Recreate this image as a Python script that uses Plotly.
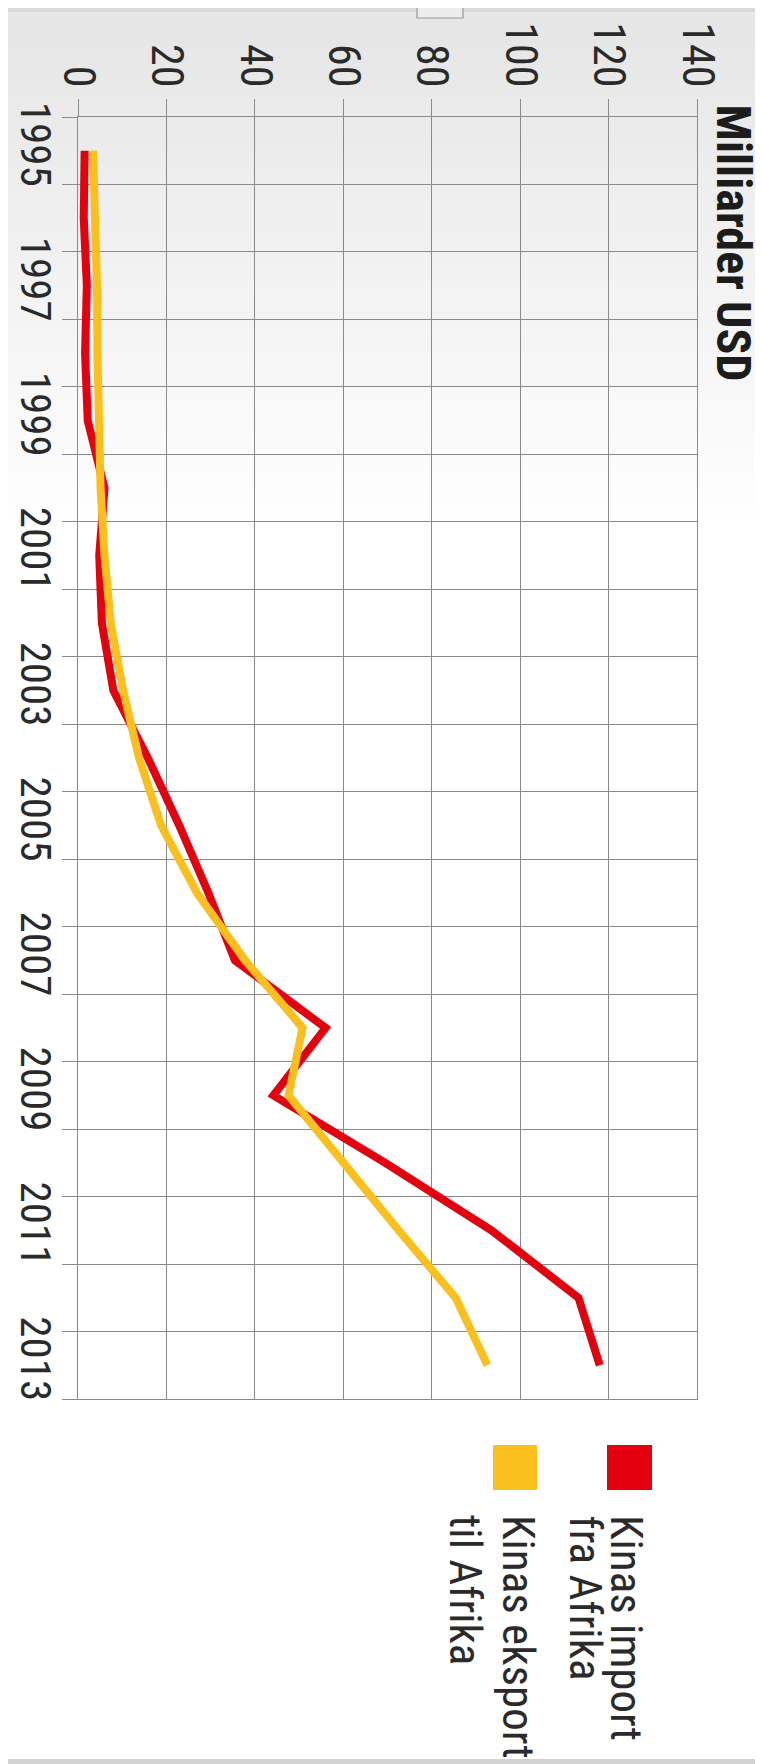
import plotly.graph_objects as go

# ---------------- data ----------------
years = list(range(1995, 2014))
import_from_africa = [1.5, 1.3, 2.0, 1.6, 2.2, 6.0, 4.8, 5.4, 8.0, 15.8, 22.9, 29.5,
                      35.5, 56.0, 44.2, 69.5, 93.5, 113.2, 118.0]
export_to_africa = [3.4, 3.9, 4.3, 4.4, 4.6, 5.1, 6.0, 7.4, 10.2, 13.8, 18.8, 26.9,
                    37.8, 50.8, 47.6, 60.0, 72.5, 85.4, 92.6]
legend_lines_import = ["Kinas import", "fra Afrika"]
legend_lines_export = ["Kinas eksport", "til Afrika"]
value_ticks = [0, 20, 40, 60, 80, 100, 120, 140]
year_ticks = [1995, 1997, 1999, 2001, 2003, 2005, 2007, 2009, 2011, 2013]
title_text = "Milliarder USD"

# ---------------- layout constants ----------------
# the page body has an 8px default margin; page coords = figure coords + OFF
OFF = 8
PAGE_W, PAGE_H = 763, 1764
W, H = PAGE_W - OFF, PAGE_H - OFF
PLOT_X0, PLOT_X1, PLOT_Y0, PLOT_Y1 = 78, 697, 117, 1399  # page coords
L, R = PLOT_X0 - OFF, PAGE_W - PLOT_X1
T, B = PLOT_Y0 - OFF, PAGE_H - PLOT_Y1
PW, PH = W - L - R, H - T - B
RED = "#e3000f"
YELLOW = "#fcc01e"
GRID = "#8a8a8a"
TXT = "#2a2a2a"
FONT = "Liberation Sans Narrow, Arial Narrow, Roboto Condensed, DejaVu Sans Condensed, Liberation Sans, sans-serif"


def px(x):  # page x -> paper
    return (x - OFF - L) / PW


def py(y):  # page y -> paper
    return (H - B - (y - OFF)) / PH


fig = go.Figure()
fig.add_trace(go.Scatter(x=import_from_africa, y=years, mode="lines",
                         line=dict(color=RED, width=8), name=" ".join(legend_lines_import),
                         showlegend=False))
fig.add_trace(go.Scatter(x=export_to_africa, y=years, mode="lines",
                         line=dict(color=YELLOW, width=8), name=" ".join(legend_lines_export),
                         showlegend=False))

shapes = []
# background gradient (light grey at top fading to white)
steps = 30
top0, bot0 = 12, 520
for i in range(steps):
    y0 = top0 + (bot0 - top0) * i / steps
    y1 = top0 + (bot0 - top0) * (i + 1) / steps
    t = i / (steps - 1)
    c = int(230 + (254 - 230) * t)
    shapes.append(dict(type="rect", xref="paper", yref="paper", layer="below",
                       x0=px(0), x1=px(PAGE_W), y0=py(y1 + 0.5), y1=py(y0),
                       line=dict(width=0), fillcolor=f"rgb({c},{c},{c})"))
# top grey strip
shapes.append(dict(type="rect", xref="paper", yref="paper", layer="below",
                   x0=px(0), x1=px(PAGE_W), y0=py(12), y1=py(0),
                   line=dict(width=0), fillcolor="#d9d9d9"))
# small tab at top
shapes.append(dict(type="rect", xref="paper", yref="paper", layer="above",
                   x0=px(417), x1=px(463), y0=py(18), y1=py(4),
                   line=dict(width=1.2, color="#9a9a9a"), fillcolor="#ececec"))
# bottom grey strip
shapes.append(dict(type="rect", xref="paper", yref="paper", layer="below",
                   x0=px(0), x1=px(PAGE_W), y0=py(PAGE_H), y1=py(1759),
                   line=dict(width=0), fillcolor="#d2d2d2"))
# legend squares
shapes.append(dict(type="rect", xref="paper", yref="paper",
                   x0=px(607), x1=px(652), y0=py(1490), y1=py(1445),
                   line=dict(width=0), fillcolor=RED))
shapes.append(dict(type="rect", xref="paper", yref="paper",
                   x0=px(493), x1=px(537), y0=py(1490), y1=py(1445),
                   line=dict(width=0), fillcolor=YELLOW))


def vtext(text, xc, ytop, size, bold=False, color=TXT):
    return dict(text=("<b>" + text + "</b>") if bold else text, textangle=90,
                xref="paper", yref="paper", x=px(xc), y=py(ytop),
                xanchor="center", yanchor="top", showarrow=False,
                font=dict(family=FONT, size=size, color=color))


annotations = [
    vtext(title_text, 733, 102, 48, bold=True, color="#1c1c1c"),
    vtext(legend_lines_import[0], 627, 1513, 45),
    vtext(legend_lines_import[1], 585, 1513, 45),
    vtext(legend_lines_export[0], 519, 1513, 45),
    vtext(legend_lines_export[1], 466, 1513, 45),
]

boundaries = [y - 0.5 for y in years] + [years[-1] + 0.5]

fig.update_layout(
    width=W, height=H,
    margin=dict(l=L, r=R, t=T, b=B, pad=0, autoexpand=False),
    paper_bgcolor="white",
    plot_bgcolor="rgba(0,0,0,0)",
    showlegend=False,
    shapes=shapes,
    annotations=annotations,
    xaxis=dict(
        side="top", range=[0, 140], tickvals=value_ticks,
        ticktext=[str(v) for v in value_ticks], tickangle=90,
        ticks="outside", ticklen=17, tickcolor=GRID, tickwidth=1.4,
        showgrid=True, gridcolor=GRID, gridwidth=1.4,
        showline=True, linecolor=GRID, linewidth=1.4, mirror=True,
        zeroline=False, ticklabelstandoff=-4, automargin=False,
        tickfont=dict(family=FONT, size=44, color=TXT),
    ),
    yaxis=dict(
        range=[boundaries[-1], boundaries[0]], tickvals=year_ticks,
        ticktext=[str(y) for y in year_ticks], tickangle=90,
        ticks="outside", ticklen=15, tickcolor="rgba(0,0,0,0)",
        showgrid=False, zeroline=False, automargin=False,
        showline=True, linecolor=GRID, linewidth=1.4, mirror=True,
        ticklabelstandoff=-11,
        tickfont=dict(family=FONT, size=43, color=TXT),
        minor=dict(tickvals=boundaries, showgrid=True, gridcolor=GRID, gridwidth=1.4,
                   ticks="outside", ticklen=15, tickcolor=GRID, tickwidth=1.4),
    ),
)

fig.write_html("out.html")
